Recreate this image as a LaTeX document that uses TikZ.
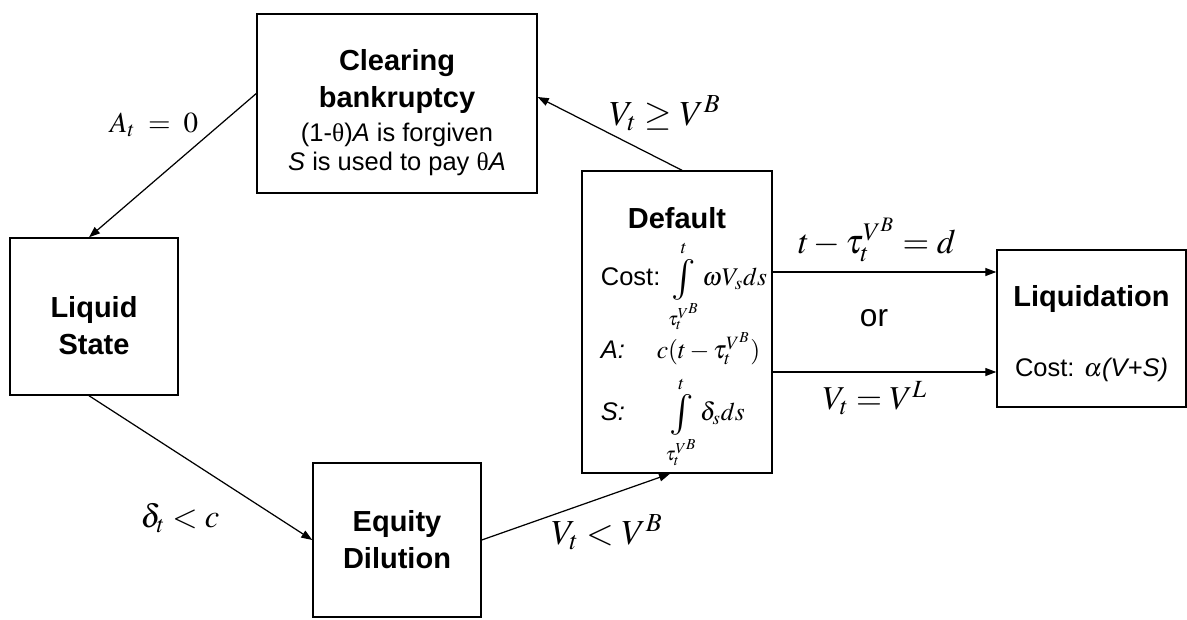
\documentclass[tikz,border=0pt]{standalone}
\usepackage{mathptmx}
\usepackage[no-math]{fontspec}
\setmainfont{Liberation Sans}
\newfontfamily\serifgreek{Liberation Serif}
\usetikzlibrary{arrows.meta, positioning, calc}

\newcommand{\titlefont}{\fontsize{16.5}{21}\selectfont\bfseries}
\newcommand{\bodyfont}{\fontsize{14.5}{17}\selectfont\mdseries}
\newcommand{\tauVB}{\tau_t^{V^B}}
\newcommand{\tallint}{\mathop{\vcenter{\hbox{\scalebox{1.6}{$\int$}}}}\limits}

\tikzstyle{state} = [rectangle, draw=black, line width=0.8pt, text centered, align=center, inner sep=2pt, font=\titlefont]
\tikzstyle{arrow} = [line width=0.7pt, -{Triangle[length=0.22cm, width=0.16cm]}]
\tikzstyle{cond} = [inner sep=0pt]

\begin{document}
\begin{tikzpicture}
  \useasboundingbox (0,0) rectangle (23.74,-12.38);

  \node (clear) [state, minimum width=5.6cm, minimum height=3.58cm] at (7.94,-2.07)
    {\rule{0pt}{0.8cm}Clearing\\ bankruptcy\\[-2pt]
     \bodyfont (1-{\serifgreek θ})\textit{A} is forgiven\\[-4pt]
     \bodyfont \textit{S} is used to pay {\serifgreek θ}\textit{A}};
  \node (liquid) [state, minimum width=3.36cm, minimum height=3.14cm] at (1.88,-6.33) {\rule{0pt}{0.8cm}Liquid\\ State};
  \node (equity) [state, minimum width=3.36cm, minimum height=3.08cm] at (7.94,-10.8) {Equity\\ Dilution};
  \node (default) [state, minimum width=3.8cm, minimum height=6.04cm] at (13.54,-6.44) {\bodyfont
    \begin{tabular}{@{\hspace{0.28cm}}l@{}}
      \multicolumn{1}{c}{\rule{0pt}{1.05cm}\titlefont Default}\\[2pt]
      Cost:\hspace{-1pt} $\tallint_{\tauVB}^{t}\omega V_s ds$\\[6pt]
      \textit{A:}\hspace{1.25em}$c(t-\tauVB)$\\[5pt]
      \textit{S:}\hspace{1.6em}$\tallint_{\tauVB}^{t}\delta_s ds$
    \end{tabular}};
  \node (liquidation) [state, minimum width=3.78cm, minimum height=3.14cm] at (21.83,-6.57)
    {\rule{0pt}{0.62cm}Liquidation\\[19pt] \bodyfont Cost: $\alpha$\textit{(V+S)}};

  % conditions on the transitions
  \node (lblA) [cond] at (3.08,-2.5) {\fontsize{16.5}{20}\selectfont $A_t\;=\;0$};
  \node (lblge) [cond] at (13.3,-2.26) {\fontsize{20}{24}\selectfont $V_t\geq V^{B}$};
  \node (lbld) [cond] at (17.54,-4.8) {\fontsize{19.5}{23}\selectfont $t-\tauVB=d$};
  \node (lblor) [cond] at (17.48,-6.36) {\fontsize{18}{22}\selectfont or};
  \node (lblL) [cond] at (17.5,-7.96) {\fontsize{19}{23}\selectfont $V_t=V^{L}$};
  \node (lbldelta) [cond] at (3.6,-10.36) {\fontsize{18.5}{22}\selectfont $\delta_t<c$};
  \node (lblB) [cond] at (12.14,-10.64) {\fontsize{20}{24}\selectfont $V_t<V^{B}$};

  \draw[arrow] ([yshift=0.2cm]clear.west) -- ([xshift=-0.1cm]liquid.north);
  \draw[arrow] ([xshift=-0.1cm]liquid.south) -- (equity.west);
  \draw[arrow] (equity.east) -- ([xshift=-0.14cm]default.south);
  \draw[arrow] ([xshift=0.1cm]default.north) -- ([yshift=0.13cm]clear.east);
  \draw[arrow] ([yshift=1cm]default.east) -- ([yshift=1cm]default.east -| liquidation.west);
  \draw[arrow] ([yshift=-1cm]default.east) -- ([yshift=-1cm]default.east -| liquidation.west);
\end{tikzpicture}
\end{document}
